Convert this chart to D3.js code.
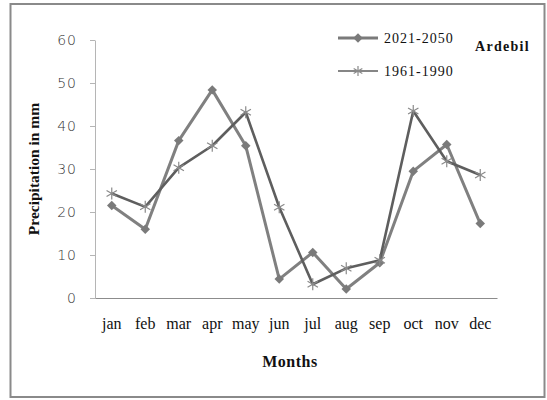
<!DOCTYPE html>
<html lang="en">
  <head>
    <meta charset="UTF-8"/>
    <title>Precipitation Ardebil</title>
    <script src="https://d3js.org/d3.v7.min.js"></script>
    <style>
        body {
          margin: 0;
          background: #fff;
        }
        .y.axis text {
          font: 14px "DejaVu Sans", sans-serif;
          font-weight: 300;
          letter-spacing: 1px;
          fill: #333;
        }
        .x.axis text {
          font: 16px "Liberation Serif", serif;
          fill: #111;
        }
        .title {
          font-family: "Liberation Serif", serif;
          font-weight: bold;
          fill: #111;
        }
        .legend text {
          font: 14px "Liberation Serif", serif;
          letter-spacing: 1px;
          fill: #111;
        }
    </style>
  </head>
  <body>
    <script>
        // months on the category axis
        const months = ["jan", "feb", "mar", "apr", "may", "jun", "jul", "aug", "sep", "oct", "nov", "dec"]
        // precipitation (mm)
        const future = [21.5, 16, 36.6, 48.4, 35.4, 4.4, 10.6, 2.1, 8.2, 29.5, 35.7, 17.3]   // 2021-2050
        const past = [24.3, 21.2, 30.3, 35.4, 43.2, 21.1, 3.2, 6.9, 8.8, 43.5, 31.8, 28.6]    // 1961-1990
        const yTicks = [0, 10, 20, 30, 40, 50, 60]

        const width = 547, height = 400

        const svg = d3.select("body").append("svg")
            .attr("width", width)
            .attr("height", height)

        // outer frame
        svg.append("rect")
            .attr("x", 10.5)
            .attr("y", 4)
            .attr("width", 534)
            .attr("height", 393)
            .attr("fill", "none")
            .attr("stroke", "#8a8a8a")
            .attr("stroke-width", 2)

        const x = d3.scaleBand()
            .domain(months)
            .range([95, 497])

        const y = d3.scaleLinear()
            .domain([0, 60])
            .range([298, 40])

        const cx = d => x(d) + x.bandwidth() / 2

        // y axis
        const yAxis = svg.append("g")
            .attr("class", "y axis")
            .attr("transform", "translate(95,0)")
            .call(d3.axisLeft(y).tickValues(yTicks).tickSize(5).tickSizeOuter(0).tickPadding(13))
        yAxis.select(".domain").attr("stroke", "#b5b5b5")
        yAxis.selectAll(".tick line").attr("stroke", "#b5b5b5")

        // x axis
        const xAxis = svg.append("g")
            .attr("class", "x axis")
            .attr("transform", "translate(0,298)")
            .call(d3.axisBottom(x).tickSize(0).tickPadding(20))
        xAxis.select(".domain").attr("stroke", "#8c8c8c")

        // axis titles
        svg.append("text")
            .attr("class", "title")
            .attr("transform", "translate(39,169) rotate(-90)")
            .attr("text-anchor", "middle")
            .style("font-size", "15.5px")
            .text("Precipitation in mm")

        svg.append("text")
            .attr("class", "title")
            .attr("x", 290)
            .attr("y", 367)
            .attr("text-anchor", "middle")
            .style("font-size", "16px")
            .style("letter-spacing", "0.5px")
            .text("Months")

        svg.append("text")
            .attr("class", "title")
            .attr("x", 475)
            .attr("y", 51)
            .style("font-size", "14px")
            .style("letter-spacing", "1.3px")
            .text("Ardebil")

        const line = d3.line()
            .x((d, i) => cx(months[i]))
            .y(d => y(d))

        // square turned 45 degrees, as the spreadsheet diamond marker
        const diamond = d3.symbol().type(d3.symbolSquare).size(45)

        function star(g, px, py, r) {
          const p = d3.path()
          for (let k = 0; k < 3; k++) {
            const a = Math.PI / 2 + k * Math.PI / 3
            p.moveTo(px - r * Math.cos(a), py - r * Math.sin(a))
            p.lineTo(px + r * Math.cos(a), py + r * Math.sin(a))
          }
          g.append("path")
              .attr("d", p.toString())
              .attr("stroke", "#8a8a8a")
              .attr("stroke-width", 1.2)
              .attr("fill", "none")
        }

        // 2021-2050 series
        svg.append("path")
            .datum(future)
            .attr("d", line)
            .attr("fill", "none")
            .attr("stroke", "#808080")
            .attr("stroke-width", 3)
            .attr("stroke-linejoin", "round")

        svg.append("g").selectAll("path")
            .data(future)
            .join("path")
            .attr("d", diamond)
            .attr("transform", (d, i) => `translate(${cx(months[i])},${y(d)}) rotate(45)`)
            .attr("fill", "#7a7a7a")

        // 1961-1990 series
        svg.append("path")
            .datum(past)
            .attr("d", line)
            .attr("fill", "none")
            .attr("stroke", "#5e5e5e")
            .attr("stroke-width", 2.6)
            .attr("stroke-linejoin", "round")

        const stars = svg.append("g")
        past.forEach((d, i) => star(stars, cx(months[i]), y(d), 6))

        // legend
        const legend = svg.append("g").attr("class", "legend")

        legend.append("line")
            .attr("x1", 338).attr("x2", 378)
            .attr("y1", 38).attr("y2", 38)
            .attr("stroke", "#7a7a7a")
            .attr("stroke-width", 3)
        legend.append("path")
            .attr("d", diamond)
            .attr("transform", "translate(358,38) rotate(45)")
            .attr("fill", "#7a7a7a")
        legend.append("text")
            .attr("x", 384)
            .attr("y", 43)
            .text("2021-2050")

        legend.append("line")
            .attr("x1", 338).attr("x2", 378)
            .attr("y1", 71).attr("y2", 71)
            .attr("stroke", "#5e5e5e")
            .attr("stroke-width", 1.5)
        star(legend, 358, 71, 5)
        legend.append("text")
            .attr("x", 384)
            .attr("y", 76)
            .text("1961-1990")
    </script>
  </body>
</html>
